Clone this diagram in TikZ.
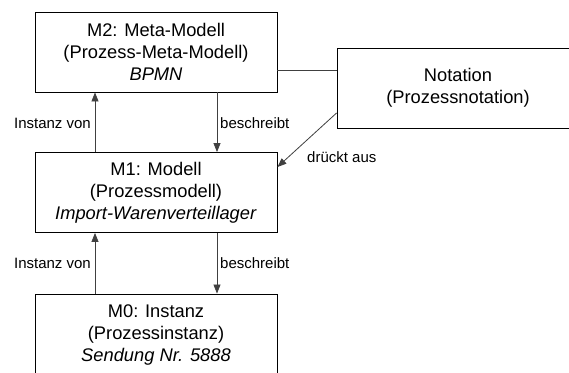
\documentclass[tikz,border=0pt]{standalone}
\usepackage{fontspec}
\setmainfont{Liberation Sans}
\usetikzlibrary{calc,arrows.meta}
\begin{document}
\begin{tikzpicture}[x=1pt,y=-1pt,
  box/.style={draw, line width=0.9pt, minimum width=242pt, minimum height=80pt, align=center, inner sep=0pt,
    font=\fontsize{18.3}{22}\selectfont},
  lbl/.style={font=\fontsize{15}{17}\selectfont, inner sep=0pt},
  conn/.style={draw=black!75, line width=0.8pt},
  arr/.style={conn, -{Triangle[length=9pt,width=7pt]}}]
\useasboundingbox (0,0) rectangle (569,372);
\clip (0,0) rectangle (569,372);
\fill[white] (0,0) rectangle (569,372);
\node[box] (m2) at (156,52) {M2: Meta-Modell\\(Prozess-Meta-Modell)\\\textit{BPMN}};
\node[box] (m1) at (156,192.5) {M1: Modell\\(Prozessmodell)\\\textit{Import-Warenverteillager}};
\node[box, minimum height=82pt] (m0) at (156,335) {M0: Instanz\\(Prozessinstanz)\\\textit{Sendung Nr. 5888}};
\node[box] (nt) at (458,88) {Notation\\(Prozessnotation)};
% vertical arrows
\draw[arr] ($(m1.north)+(-61,0)$) -- ($(m2.south)+(-61,0)$);
\draw[arr] ($(m2.south)+(61,0)$) -- ($(m1.north)+(61,0)$);
\draw[arr] ($(m0.north)+(-61,0)$) -- ($(m1.south)+(-61,0)$);
\draw[arr] ($(m1.south)+(61,0)$) -- ($(m0.north)+(61,0)$);
% M2 -- Notation
\draw[conn] ($(m2.east)+(0,18)$) -- ($(nt.west)+(0,-18)$);
% Notation -> M1
\draw[arr] ($(nt.west)+(0,25)$) -- ($(m1.east)+(0,-25.5)$);
% labels
\node[lbl, anchor=east] (l1) at (91,123) {Instanz von};
\node[lbl, anchor=west] (l2) at (220,123) {beschreibt};
\node[lbl, anchor=east] (l3) at (91,263) {Instanz von};
\node[lbl, anchor=west] (l4) at (220,263) {beschreibt};
\node[lbl, anchor=west] (l5) at (307,157) {drückt aus};
\end{tikzpicture}
\end{document}
